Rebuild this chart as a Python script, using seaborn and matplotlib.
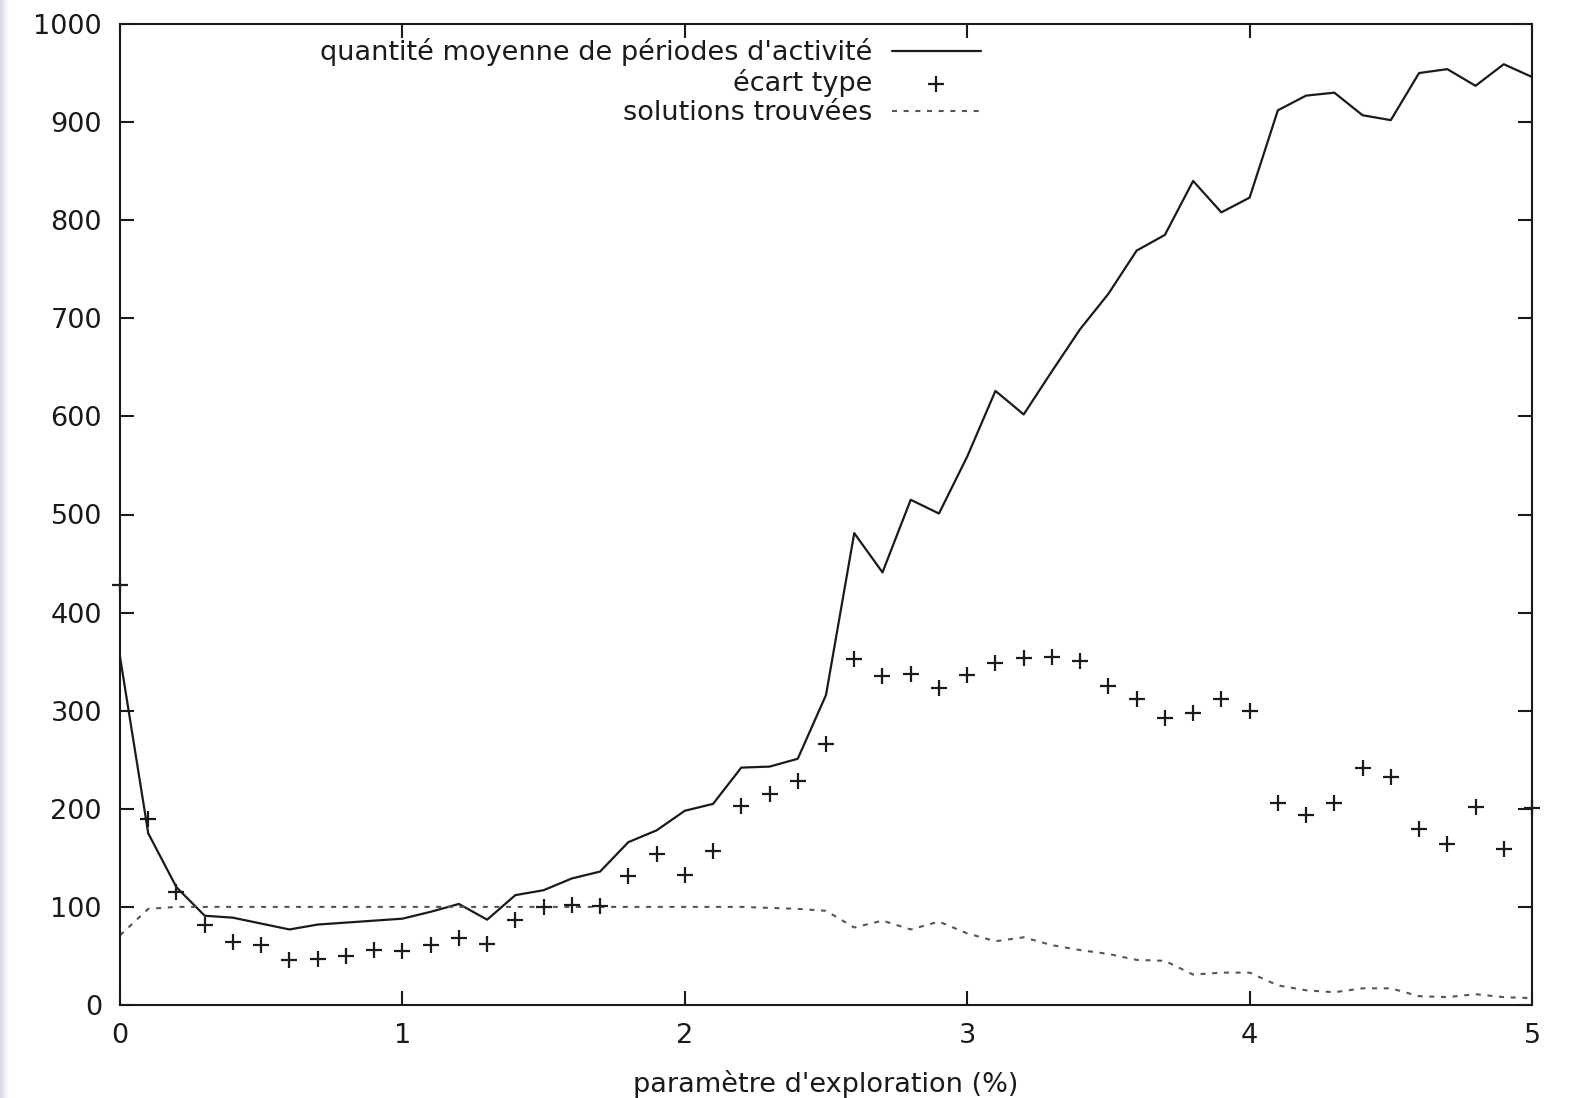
import numpy as np
import pandas as pd
import matplotlib
matplotlib.use("Agg")
import matplotlib.pyplot as plt
import seaborn as sns
from matplotlib.colors import LinearSegmentedColormap

# ---- data ----
param = [0.0, 0.1, 0.2, 0.3, 0.4, 0.5, 0.6, 0.7, 0.8, 0.9,
         1.0, 1.1, 1.2, 1.3, 1.4, 1.5, 1.6, 1.7, 1.8, 1.9,
         2.0, 2.1, 2.2, 2.3, 2.4, 2.5, 2.6, 2.7, 2.8, 2.9,
         3.0, 3.1, 3.2, 3.3, 3.4, 3.5, 3.6, 3.7, 3.8, 3.9,
         4.0, 4.1, 4.2, 4.3, 4.4, 4.5, 4.6, 4.7, 4.8, 4.9, 5.0]

moyenne = [355, 175, 120, 91, 89, 83, 77, 82, 84, 86,
           88, 95, 103, 87, 112, 117, 129, 136, 166, 178,
           198, 205, 242, 243, 251, 316, 481, 441, 515, 501,
           559, 626, 602, 646, 689, 725, 769, 785, 840, 808,
           823, 912, 927, 930, 907, 902, 950, 954, 937, 959, 946]

ecart_type = [428, 190, 115, 82, 64, 61, 46, 47, 50, 56,
              55, 61, 68, 62, 87, 100, 102, 101, 131, 154,
              133, 157, 203, 215, 228, 266, 353, 335, 337, 323,
              336, 349, 354, 355, 351, 325, 312, 293, 298, 312,
              300, 206, 194, 206, 242, 232, 179, 164, 202, 159, 201]

solutions = [71, 98, 100, 100, 100, 100, 100, 100, 100, 100,
             100, 100, 100, 100, 100, 100, 100, 100, 100, 100,
             100, 100, 100, 99, 98, 96, 79, 86, 77, 85,
             73, 65, 69, 61, 56, 52, 46, 45, 31, 33,
             33, 20, 15, 13, 17, 17, 9, 8, 11, 8, 7]

labels = ["quantité moyenne de périodes d'activité", "écart type", "solutions trouvées"]
x_ticks = [0, 1, 2, 3, 4, 5]
y_ticks = [0, 100, 200, 300, 400, 500, 600, 700, 800, 900, 1000]
x_label = "paramètre d'exploration (%)"

df = pd.DataFrame({"p": param, "moy": moyenne, "sd": ecart_type, "sol": solutions})

# ---- style ----
sns.set_theme(style="white")
plt.rcParams["font.family"] = ["DejaVu Sans"]
FS = 19.5
INK = "#1a1a1a"

fig = plt.figure(figsize=(15.72, 10.98), dpi=100)
ax = fig.add_axes([120 / 1572, 1 - 1005 / 1098, (1532 - 120) / 1572, (1005 - 24) / 1098])

# light strip on left edge (screenshot artefact)
sax = fig.add_axes([0, 0, 9 / 1572, 1])
grad = np.linspace(0, 1, 50).reshape(1, -1)
cm = LinearSegmentedColormap.from_list("strip", ["#d4d6e6", "#ffffff"])
sax.imshow(grad, aspect="auto", cmap=cm, extent=[0, 1, 0, 1])
sax.set_axis_off()

sns.lineplot(data=df, x="p", y="moy", ax=ax, color=INK, linewidth=1.6,
             label=labels[0], clip_on=False)
sns.scatterplot(data=df, x="p", y="sd", ax=ax, color=INK, marker="+",
                s=120, linewidth=1.6, label=labels[1], clip_on=False, zorder=3)
sns.lineplot(data=df, x="p", y="sol", ax=ax, color="#555555", linewidth=1.5,
             linestyle=(0, (2.4, 3.2)), label=labels[2])

ax.set_xlim(0, 5)
ax.set_ylim(0, 1000)
ax.set_xticks(x_ticks)
ax.set_yticks(y_ticks)
ax.set_xticklabels([str(t) for t in x_ticks])
ax.set_yticklabels([str(t) for t in y_ticks])
ax.tick_params(axis="both", which="major", direction="in", length=10, width=1.5,
               top=True, right=True, bottom=True, left=True,
               labelsize=FS, colors=INK, pad=13)
ax.set_xlabel(x_label, fontsize=FS, color=INK, labelpad=15)
ax.set_ylabel("")
for s in ax.spines.values():
    s.set_visible(True)
    s.set_color(INK)
    s.set_linewidth(1.5)
ax.grid(False)

leg = ax.legend(loc="upper right", bbox_to_anchor=((981 - 120) / 1412, 1 - 14 / 981),
                frameon=False, markerfirst=False, fontsize=FS,
                handlelength=3.3, handletextpad=0.7, labelspacing=0.12,
                borderpad=0, borderaxespad=0, scatterpoints=1)
for t in leg.get_texts():
    t.set_color(INK)

fig.savefig("out.png", dpi=100)
